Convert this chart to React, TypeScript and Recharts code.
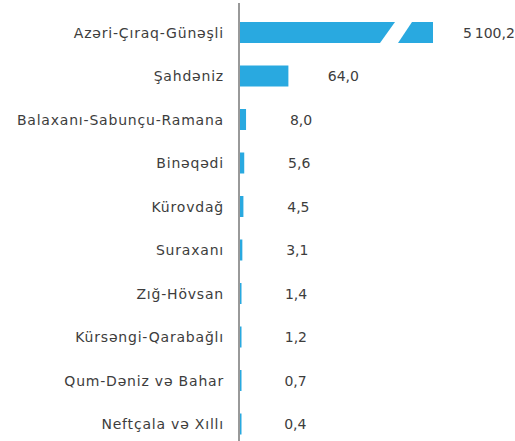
import { BarChart, Bar, XAxis, YAxis, LabelList } from 'recharts';

const fields = [
  'Azəri-Çıraq-Günəşli',
  'Şahdəniz',
  'Balaxanı-Sabunçu-Ramana',
  'Binəqədi',
  'Kürovdağ',
  'Suraxanı',
  'Zığ-Hövsan',
  'Kürsəngi-Qarabağlı',
  'Qum-Dəniz və Bahar',
  'Neftçala və Xıllı',
];
const output = [5100.2, 64.0, 8.0, 5.6, 4.5, 3.1, 1.4, 1.2, 0.7, 0.4];

const BAR_COLOR = '#29a9e0';
const TEXT_COLOR = '#3d3d3d';
const FONT = '"DejaVu Sans", sans-serif';
const MAX_BAR = 194; // bars longer than this are drawn broken

const chartData = fields.map((name, i) => ({ name, value: output[i] }));

const formatValue = (v: number) => {
  const [intPart, dec] = v.toFixed(1).split('.');
  const grouped = intPart.replace(/\B(?=(\d{3})+(?!\d))/g, '\u202f');
  return `${grouped},${dec}`;
};

const BrokenBar = (props: any) => {
  const { x, y, width, height } = props;
  if (width <= MAX_BAR) {
    return <rect x={x} y={y} width={Math.max(width + 1, 2.5)} height={height} fill={BAR_COLOR} />;
  }
  const left = `${x},${y} ${x + 156},${y} ${x + 141},${y + height} ${x},${y + height}`;
  const right = `${x + 173},${y} ${x + MAX_BAR},${y} ${x + MAX_BAR},${y + height} ${x + 159},${y + height}`;
  return (
    <g>
      <polygon points={left} fill={BAR_COLOR} />
      <polygon points={right} fill={BAR_COLOR} />
    </g>
  );
};

const ValueLabel = (props: any) => {
  const { x, y, width, height, value } = props;
  const end = x + Math.min(width, MAX_BAR);
  return (
    <text
      x={end + 56}
      y={y + height / 2}
      textAnchor="middle"
      dominantBaseline="central"
      fill={TEXT_COLOR}
      fontSize={14}
      fontFamily={FONT}
    >
      {formatValue(value)}
    </text>
  );
};

export default function App() {
  return (
    <div style={{ position: 'absolute', left: 0, top: 0, width: 515, height: 441, overflow: 'hidden', background: '#fff' }}>
      <BarChart
        width={515}
        height={446}
        data={chartData}
        layout="vertical"
        margin={{ top: 3, right: 0, bottom: 0, left: 0 }}
        barCategoryGap={0}
      >
        <XAxis type="number" hide domain={[0, 365]} allowDataOverflow />
        <YAxis
          type="category"
          dataKey="name"
          width={239}
          padding={{ top: 8, bottom: 0 }}
          tickLine={false}
          tickSize={0}
          tickMargin={15}
          axisLine={{ stroke: '#999999', strokeWidth: 2 }}
          tick={{ fill: TEXT_COLOR, fontSize: 14, fontFamily: FONT, letterSpacing: 0.8 }}
          interval={0}
        />
        <Bar dataKey="value" barSize={21} shape={BrokenBar} isAnimationActive={false}>
          <LabelList dataKey="value" content={ValueLabel} />
        </Bar>
      </BarChart>
    </div>
  );
}
